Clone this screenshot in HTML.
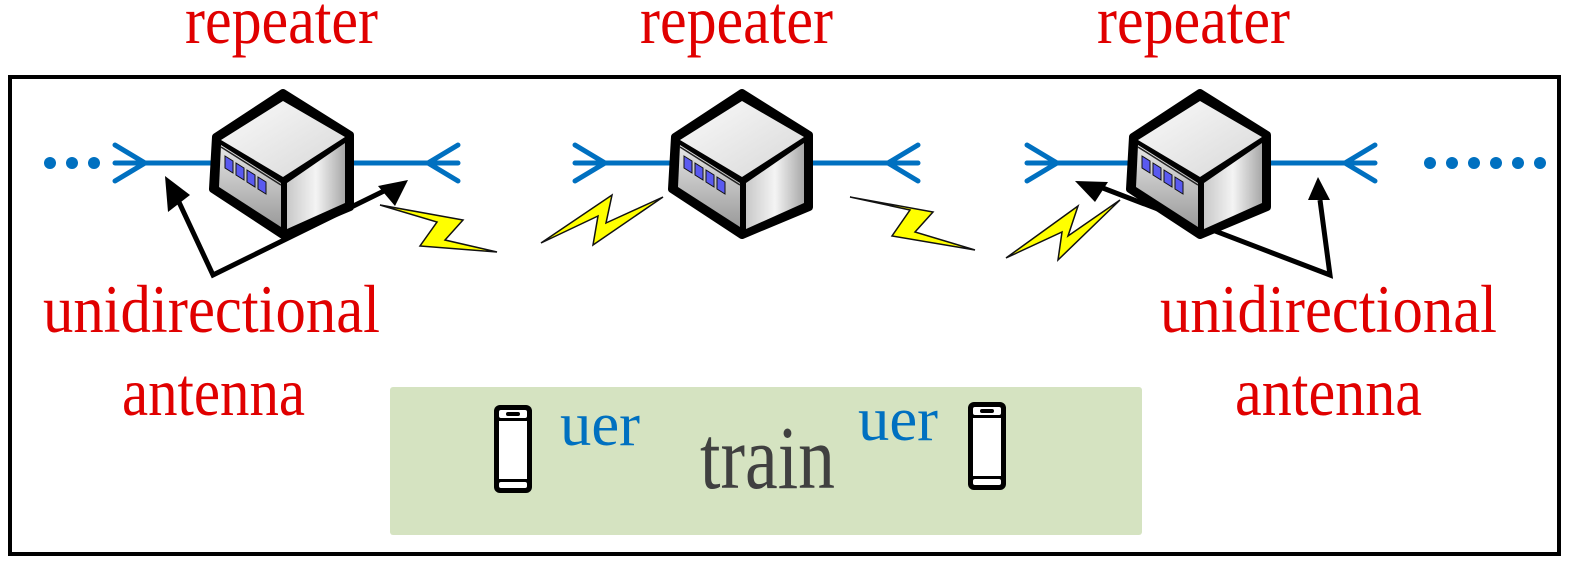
<!DOCTYPE html>
<html><head><meta charset="utf-8"><style>html,body{margin:0;padding:0;background:#fff}svg{display:block}</style></head><body>
<svg width="1571" height="566" viewBox="0 0 1571 566" xmlns="http://www.w3.org/2000/svg">
<defs>
<linearGradient id="top" x1="0" y1="0" x2="1" y2="1"><stop offset="0" stop-color="#fafafa"/><stop offset="1" stop-color="#d8d8d8"/></linearGradient>
<linearGradient id="side" x1="0" y1="0" x2="1" y2="0"><stop offset="0" stop-color="#c8c8c8"/><stop offset="0.5" stop-color="#f4f4f4"/><stop offset="1" stop-color="#a8a8a8"/></linearGradient>
<linearGradient id="front" x1="0" y1="0" x2="0" y2="1"><stop offset="0" stop-color="#e6e6e6"/><stop offset="1" stop-color="#9a9a9a"/></linearGradient>
<g id="cube">
<polygon points="0,-70 67,-28 67,44 0,72 -70,26 -67,-26" fill="#000" stroke="#000" stroke-width="8" stroke-linejoin="round"/>
<polygon points="0,-62 62,-26 0,14 -62,-23" fill="url(#top)"/>
<polygon points="62,-20 62,40 4,66 4,20" fill="url(#side)"/>
<polygon points="-62,-18 -2,20 -2,64 -64,24" fill="url(#front)"/>
<line x1="-62" y1="-16" x2="-2" y2="22" stroke="#222" stroke-width="1.5"/>
<g fill="#5a5af0" stroke="#111" stroke-width="1">
<polygon points="-58,-7 -50,-2 -50,10 -58,5"/>
<polygon points="-47,0 -39,5 -39,17 -47,12"/>
<polygon points="-36,7 -28,12 -28,24 -36,19"/>
<polygon points="-25,14 -17,19 -17,31 -25,26"/>
</g>
</g>
</defs>
<rect x="10" y="77" width="1549" height="477" fill="none" stroke="#000" stroke-width="4"/>
<g fill="#e00000" font-family="Liberation Serif, serif">
<text x="185" y="43" font-size="68" textLength="193" lengthAdjust="spacingAndGlyphs">repeater</text>
<text x="640" y="43" font-size="68" textLength="193" lengthAdjust="spacingAndGlyphs">repeater</text>
<text x="1097" y="43" font-size="68" textLength="193" lengthAdjust="spacingAndGlyphs">repeater</text>
<text x="43" y="332" font-size="68" textLength="337" lengthAdjust="spacingAndGlyphs">unidirectional</text>
<text x="122" y="415" font-size="68" textLength="183" lengthAdjust="spacingAndGlyphs">antenna</text>
<text x="1160" y="332" font-size="68" textLength="337" lengthAdjust="spacingAndGlyphs">unidirectional</text>
<text x="1235" y="415" font-size="68" textLength="187" lengthAdjust="spacingAndGlyphs">antenna</text>
</g>
<g stroke="#0070c0" stroke-width="5" fill="none" stroke-linecap="round">
<line x1="115" y1="163" x2="215" y2="163"/><polyline points="115,145 145,163 115,181"/>
<line x1="350" y1="163" x2="458" y2="163"/><polyline points="458,145 428,163 458,181"/>
<line x1="575" y1="163" x2="672" y2="163"/><polyline points="575,145 605,163 575,181"/>
<line x1="810" y1="163" x2="918" y2="163"/><polyline points="918,145 888,163 918,181"/>
<line x1="1027" y1="163" x2="1130" y2="163"/><polyline points="1027,145 1057,163 1027,181"/>
<line x1="1265" y1="163" x2="1375" y2="163"/><polyline points="1375,145 1345,163 1375,181"/>
</g>
<g fill="#0070c0">
<circle cx="50" cy="163" r="6"/><circle cx="72" cy="163" r="6"/><circle cx="94" cy="163" r="6"/>
<circle cx="1430" cy="163" r="6"/><circle cx="1452" cy="163" r="6"/><circle cx="1474" cy="163" r="6"/><circle cx="1496" cy="163" r="6"/><circle cx="1518" cy="163" r="6"/><circle cx="1540" cy="163" r="6"/>
</g>
<g stroke="#000" stroke-width="5" fill="none">
<polyline points="1095,185 1330,275 1320,200"/>
</g>
<use href="#cube" x="283" y="163"/>
<use href="#cube" x="742" y="163"/>
<use href="#cube" x="1200" y="163"/>
<g fill="#ffff00" stroke="#111" stroke-width="1.5" stroke-linejoin="miter">
<polygon points="380,205 463,220 445,240 497,252 420,246 437,222"/>
<polygon points="541,243 612,195 606,223 663,197 593,245 598,216"/>
<polygon points="850,197 933,212 915,232 975,250 892,236 910,210"/>
<polygon points="1006,258 1078,206 1068,236 1120,200 1058,260 1062,232"/>
</g>
<g stroke="#000" stroke-width="5" fill="none">
<polyline points="178,200 213,275 390,188"/>
</g>
<g fill="#000">
<polygon points="165,176 190,195 168,212"/>
<polygon points="408,180 378,186 395,206"/>
<polygon points="1075,181 1108,182 1095,202"/>
<polygon points="1318,177 1308,200 1330,200"/>
</g>
<rect x="390" y="387" width="752" height="148" rx="3" fill="#d5e3c1"/>
<text x="700" y="488" font-family="Liberation Serif, serif" font-size="90" fill="#404040" textLength="135" lengthAdjust="spacingAndGlyphs">train</text>
<text x="560" y="445" font-family="Liberation Serif, serif" font-size="62" fill="#0070c0" textLength="80" lengthAdjust="spacingAndGlyphs">uer</text>
<text x="858" y="440" font-family="Liberation Serif, serif" font-size="62" fill="#0070c0" textLength="80" lengthAdjust="spacingAndGlyphs">uer</text>
<g>
<rect x="494" y="405" width="38" height="88" rx="6" fill="#000"/>
<rect x="499" y="421" width="28" height="58" fill="#fff"/>
<rect x="499" y="410" width="28" height="8" rx="2" fill="#fff"/><rect x="506" y="412" width="14" height="4" rx="2" fill="#000"/>
<rect x="499" y="482" width="28" height="6" rx="2" fill="#fff"/>
<rect x="968" y="402" width="38" height="88" rx="6" fill="#000"/>
<rect x="973" y="418" width="28" height="58" fill="#fff"/>
<rect x="973" y="407" width="28" height="8" rx="2" fill="#fff"/><rect x="980" y="409" width="14" height="4" rx="2" fill="#000"/>
<rect x="973" y="479" width="28" height="6" rx="2" fill="#fff"/>
</g>
</svg>
</body></html>
